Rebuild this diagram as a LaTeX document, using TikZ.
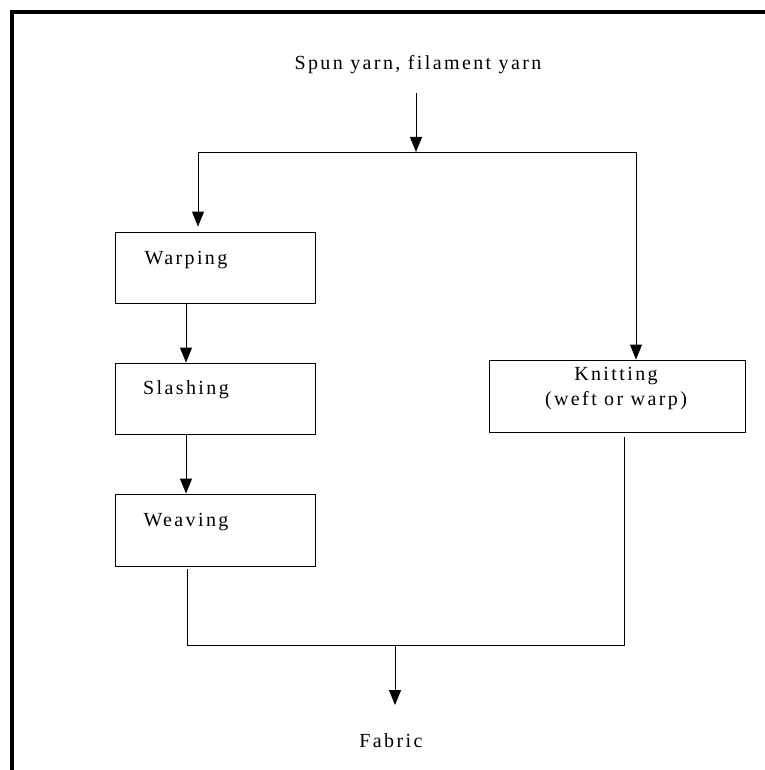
\documentclass[tikz,border=0pt]{standalone}
\usepackage{fontspec}
\setmainfont{Liberation Serif}[LetterSpace=12]
\usetikzlibrary{arrows.meta}
\begin{document}
\begin{tikzpicture}[x=1pt,y=-1pt,
  box/.style={draw=black, line width=0.9pt, rectangle, inner sep=0pt},
  lbl/.style={inner sep=0pt, font=\fontsize{20}{25}\selectfont, align=center},
  link/.style={draw=black, line width=0.9pt},
  arr/.style={link, -{Triangle[length=15pt,width=12pt]}}]
\useasboundingbox (0,0) rectangle (764,770);
% frame on the left and top edges
\draw[line width=4pt, line join=miter] (12,772) -- (12,12) -- (766,12);

% process boxes
\node[box, minimum width=200pt, minimum height=71pt] (warping) at (215,267.5) {};
\node[box, minimum width=200pt, minimum height=71pt] (slashing) at (215,398.5) {};
\node[box, minimum width=200pt, minimum height=72pt] (weaving) at (215,530) {};
\node[box, minimum width=256pt, minimum height=72pt] (knitting) at (617,396) {};

% labels
\node[lbl] (title) at (418,65) {Spun yarn, filament yarn};
\node[lbl] (warpinglbl) at (186,260) {Warping};
\node[lbl] (slashinglbl) at (186,390) {Slashing};
\node[lbl] (weavinglbl) at (186,522) {Weaving};
\node[lbl] (knittinglbl) at (616,389) {Knitting\\(weft or warp)};
\node[lbl] (fabric) at (391,741) {Fabric};

% junction points
\coordinate (src) at (416,93);
\coordinate (tm) at (416,152);
\coordinate (tl) at (198,152);
\coordinate (tr) at (636,152);
\coordinate (bl) at (187,645);
\coordinate (br) at (624,645);
\coordinate (bm) at (395,645);
\coordinate (fabtip) at (395,705);

% split of the yarn supply
\draw[arr] (src) -- (tm);
\draw[link] (tl) -- (tr);
\draw[arr] (tl) -- ([yshift=5pt]warping.north -| tl);
\draw[arr] (tr) -- (knitting.north -| tr);

% weaving route
\draw[arr] (warping.south -| warpinglbl) -- (slashing.north -| warpinglbl);
\draw[arr] (slashing.south -| slashinglbl) -- (weaving.north -| slashinglbl);

% merge into fabric
\draw[link] ([yshift=-3pt]weaving.south -| bl) -- (bl) -- (br) -- ([yshift=-5pt]knitting.south -| br);
\draw[arr] (bm) -- (fabtip);
\end{tikzpicture}
\end{document}
